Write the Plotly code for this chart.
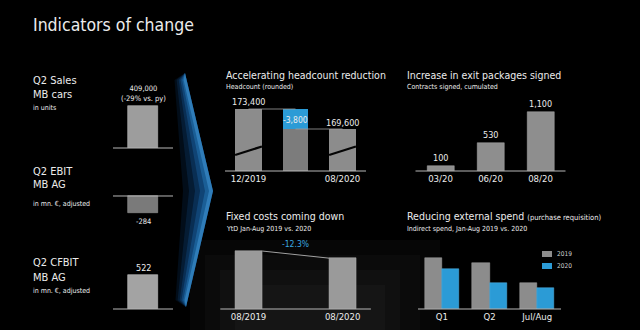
import plotly.graph_objects as go

W, H = 640, 330
FONT = "Liberation Sans Narrow, DejaVu Sans Condensed, Roboto, sans-serif"
WHITE = "#ececec"
BLUE = "#2b9bd6"

# ---------------- data ----------------
sales_cat = ["Q2 Sales"]
sales_value = [409000]
sales_note = "(-29% vs. py)"
ebit_cat = ["Q2 EBIT"]
ebit_value = [-284]
cfbit_cat = ["Q2 CFBIT"]
cfbit_value = [522]

headcount_cats = ["12/2019", "change", "08/2020"]
headcount_start = 173400
headcount_change = -3800
headcount_end = 169600

exit_cats = ["03/20", "06/20", "08/20"]
exit_values = [100, 530, 1100]

fixed_cats = ["08/2019", "08/2020"]
fixed_index = [100, 87.7]
fixed_change_label = "-12.3%"

spend_cats = ["Q1", "Q2", "Jul/Aug"]
spend_series = ["2019", "2020"]
spend_2019 = [51, 46, 26]
spend_2020 = [40, 26, 21]


def xdom(l, r):
    return [l / W, r / W]


def ydom(top, bottom):
    return [1 - bottom / H, 1 - top / H]


def fmt(v):
    return f"{v:,.0f}"


fig = go.Figure()

# ---- left mini charts ----
fig.add_trace(go.Bar(x=sales_cat, y=sales_value, width=0.5, xaxis="x", yaxis="y",
                     marker=dict(color="#9d9d9d", line=dict(color="#bdbdbd", width=0.6)), showlegend=False))
fig.add_trace(go.Bar(x=ebit_cat, y=ebit_value, width=0.5, xaxis="x2", yaxis="y2",
                     marker=dict(color="#7a7a7a", line=dict(color="#9a9a9a", width=0.6)), showlegend=False))
fig.add_trace(go.Bar(x=cfbit_cat, y=cfbit_value, width=0.5, xaxis="x3", yaxis="y3",
                     marker=dict(color="#a3a3a3", line=dict(color="#c4c4c4", width=0.6)), showlegend=False))

# ---- headcount waterfall ----
fig.add_trace(go.Bar(x=[headcount_cats[0], headcount_cats[2]], y=[headcount_start, headcount_end],
                     width=0.57, xaxis="x4", yaxis="y4",
                     marker=dict(color="#8c8c8c", line=dict(width=0)), showlegend=False))
fig.add_trace(go.Bar(x=[headcount_cats[1]], y=[headcount_end], width=0.53, xaxis="x4", yaxis="y4",
                     marker=dict(color="#7c7c7c", line=dict(width=0)), showlegend=False))
fig.add_trace(go.Bar(x=[headcount_cats[1]], y=[-headcount_change], base=[headcount_end], width=0.53,
                     xaxis="x4", yaxis="y4", marker=dict(color=BLUE, line=dict(width=0)), showlegend=False))

# ---- exit packages ----
fig.add_trace(go.Bar(x=exit_cats, y=exit_values, width=0.54, xaxis="x5", yaxis="y5",
                     marker=dict(color="#8e8e8e", line=dict(color="#a8a8a8", width=0.5)), showlegend=False))

# ---- fixed costs ----
fig.add_trace(go.Bar(x=fixed_cats, y=fixed_index, width=0.29, xaxis="x6", yaxis="y6",
                     marker=dict(color="#9a9a9a", line=dict(color="#b5b5b5", width=0.5)), showlegend=False))

# ---- external spend ----
SPEND_COLORS = ["#8c8c8c", BLUE]
fig.add_trace(go.Bar(x=spend_cats, y=spend_2019, name=spend_series[0], offset=-0.36, width=0.36,
                     xaxis="x7", yaxis="y7", showlegend=False,
                     marker=dict(color=SPEND_COLORS[0], line=dict(color="#a5a5a5", width=0.5))))
fig.add_trace(go.Bar(x=spend_cats, y=spend_2020, name=spend_series[1], offset=0.0, width=0.36,
                     xaxis="x7", yaxis="y7", showlegend=False,
                     marker=dict(color=SPEND_COLORS[1], line=dict(color="#55b6ea", width=0.5))))

ax_common = dict(showgrid=False, zeroline=False, showline=False, ticks="", fixedrange=True)
tick_font = dict(family=FONT, size=9.5, color=WHITE)

layout_axes = dict(
    xaxis=dict(domain=xdom(113, 173), range=[-0.5, 0.5], showticklabels=False, **ax_common),
    yaxis=dict(domain=ydom(96, 148), range=[0, 506400], showticklabels=False, anchor="x", **ax_common),
    xaxis2=dict(domain=xdom(113, 173), range=[-0.5, 0.5], showticklabels=False, anchor="y2", **ax_common),
    yaxis2=dict(domain=ydom(190, 230), range=[-568, 100], showticklabels=False, anchor="x2", **ax_common),
    xaxis3=dict(domain=xdom(113, 173), range=[-0.5, 0.5], showticklabels=False, anchor="y3", **ax_common),
    yaxis3=dict(domain=ydom(262, 309), range=[0, 721], showticklabels=False, anchor="x3", **ax_common),
    xaxis4=dict(domain=xdom(225, 366), range=[-0.5, 2.5], anchor="y4", type="category",
                categoryorder="array", categoryarray=headcount_cats,
                tickvals=[headcount_cats[0], headcount_cats[2]], ticktext=[headcount_cats[0], headcount_cats[2]],
                tickfont=tick_font, **ax_common),
    yaxis4=dict(domain=ydom(100, 171), range=[161620, 175110], showticklabels=False, anchor="x4", **ax_common),
    xaxis5=dict(domain=xdom(415.5, 565.5), range=[-0.5, 2.5], anchor="y5", tickfont=tick_font, **ax_common),
    yaxis5=dict(domain=ydom(100, 171), range=[0, 1324], showticklabels=False, anchor="x5", **ax_common),
    xaxis6=dict(domain=xdom(220.3, 370.9), range=[-0.3, 1.3], anchor="y6", tickfont=tick_font, **ax_common),
    yaxis6=dict(domain=ydom(240, 309), range=[0, 119], showticklabels=False, anchor="x6", **ax_common),
    xaxis7=dict(domain=xdom(418, 561), range=[-0.5, 2.5], anchor="y7", tickfont=tick_font, **ax_common),
    yaxis7=dict(domain=ydom(240, 309), range=[0, 69], showticklabels=False, anchor="x7", **ax_common),
)

shapes = []
# soft fog in the lower middle (stacked faint layers)
for (x0, x1, ytop, op) in [(190, 440, 240, 0.05), (205, 420, 255, 0.05), (220, 400, 270, 0.05),
                           (235, 385, 285, 0.05)]:
    shapes.append(dict(type="rect", xref="paper", yref="paper", x0=x0 / W, x1=x1 / W, y0=0, y1=1 - ytop / H,
                       fillcolor=f"rgba(120,120,120,{op})", line=dict(width=0), layer="below"))

# blue glowing chevron: layered wedges, sharp right edge, fading to the left
right_edge = [(185, 73), (213, 191), (186, 307)]
for off, col in [(30, "rgba(10,60,115,0.22)"), (24, "rgba(15,75,135,0.25)"), (18, "rgba(20,95,165,0.28)"),
                 (13, "rgba(30,115,190,0.32)"), (8, "rgba(45,140,210,0.36)"), (4, "rgba(80,170,235,0.40)")]:
    left_edge = [(186 - off * 0.35, 300), (213 - off, 191), (185 - off * 0.35, 80)]
    pts = right_edge + left_edge
    path = "M " + " L ".join(f"{x / W},{1 - y / H}" for x, y in pts) + " Z"
    shapes.append(dict(type="path", xref="paper", yref="paper", path=path,
                       fillcolor=col, line=dict(width=0), layer="below"))

# baselines
for ax in ["", "3", "4", "5", "6", "7"]:
    shapes.append(dict(type="line", xref=f"x{ax} domain", yref=f"y{ax} domain", x0=0, x1=1, y0=0, y1=0,
                       line=dict(color="#b8b8b8", width=1)))
shapes.append(dict(type="line", xref="x2 domain", yref="y2", x0=0, x1=1, y0=0, y1=0,
                   line=dict(color="#b8b8b8", width=1)))

# headcount connectors
shapes.append(dict(type="line", xref="x4", yref="y4", x0=0, x1=1, y0=headcount_start, y1=headcount_start,
                   line=dict(color="#a0a0a0", width=0.8)))
shapes.append(dict(type="line", xref="x4", yref="y4", x0=1, x1=2, y0=headcount_end, y1=headcount_end,
                   line=dict(color="#a0a0a0", width=0.8)))
# axis break marks
for i in [0, 2]:
    shapes.append(dict(type="line", xref="x4", yref="y4 domain", x0=i - 0.285, x1=i + 0.285, y0=0.225, y1=0.345,
                       line=dict(color="#050505", width=2.2)))
# fixed cost slope
shapes.append(dict(type="line", xref="x6", yref="y6", x0=0.145, x1=0.855, y0=fixed_index[0], y1=fixed_index[1],
                   line=dict(color="#c8c8c8", width=0.8)))

ann = []


def text(x, y, s, size, color=WHITE, xanchor="left"):
    ann.append(dict(x=x / W, y=1 - y / H, xref="paper", yref="paper", text=s, showarrow=False,
                    xanchor=xanchor, yanchor="middle", font=dict(family=FONT, size=size, color=color)))


text(31, 25, "Indicators of change", 17.5)
text(31, 80, "Q2 Sales", 11)
text(31, 95, "MB cars", 11)
text(31, 108, "in units", 7)
text(31, 171, "Q2 EBIT", 11)
text(31, 185, "MB AG", 11)
text(31, 204, "in mn. €, adjusted", 7)
text(31, 262, "Q2 CFBIT", 11)
text(31, 277, "MB AG", 11)
text(31, 291, "in mn. €, adjusted", 7)

text(224, 75, "Accelerating headcount reduction", 10.5)
text(224, 87, "Headcount (rounded)", 7)
text(405, 75, "Increase in exit packages signed", 10.5)
text(405, 87, "Contracts signed, cumulated", 7)
text(224, 216, "Fixed costs coming down", 10.5)
text(224, 229, "YtD Jan-Aug 2019 vs. 2020", 7)
text(405, 216, "Reducing external spend <span style='font-size:7.5px'>(purchase requisition)</span>", 10.5)
text(405, 229, "Indirect spend, Jan-Aug 2019 vs. 2020", 7)

# manual legend for the spend chart
for k, (name, col) in enumerate(zip(spend_series, SPEND_COLORS)):
    yc = 254 + 12 * k
    shapes.append(dict(type="rect", xref="paper", yref="paper", x0=542 / W, x1=552 / W,
                       y0=1 - (yc + 3) / H, y1=1 - (yc - 3) / H, fillcolor=col, line=dict(width=0)))
    text(555, yc, name, 6.5, color="#d0d0d0")

# value labels
ann.append(dict(x=sales_cat[0], y=sales_value[0], xref="x", yref="y", text=f"{fmt(sales_value[0])}<br>{sales_note}",
                showarrow=False, yanchor="bottom", yshift=1, font=dict(family=FONT, size=7.5, color=WHITE)))
ann.append(dict(x=ebit_cat[0], y=ebit_value[0], xref="x2", yref="y2", text=fmt(ebit_value[0]),
                showarrow=False, yanchor="top", yshift=-2, font=dict(family=FONT, size=7.5, color=WHITE)))
ann.append(dict(x=cfbit_cat[0], y=cfbit_value[0], xref="x3", yref="y3", text=fmt(cfbit_value[0]),
                showarrow=False, yanchor="bottom", yshift=0, font=dict(family=FONT, size=9, color=WHITE)))

ann.append(dict(x=headcount_cats[0], y=headcount_start, xref="x4", yref="y4", text=fmt(headcount_start),
                showarrow=False, yanchor="bottom", yshift=0, font=dict(family=FONT, size=9, color=WHITE)))
ann.append(dict(x=headcount_cats[1], y=headcount_end - headcount_change / 2, xref="x4", yref="y4",
                text=fmt(headcount_change), showarrow=False, yanchor="middle", yshift=-1,
                font=dict(family=FONT, size=8.5, color=WHITE)))
ann.append(dict(x=headcount_cats[2], y=headcount_end, xref="x4", yref="y4", text=fmt(headcount_end),
                showarrow=False, yanchor="bottom", yshift=-1, font=dict(family=FONT, size=9, color=WHITE)))

for c, v in zip(exit_cats, exit_values):
    ann.append(dict(x=c, y=v, xref="x5", yref="y5", text=fmt(v), showarrow=False, yanchor="bottom", yshift=1,
                    font=dict(family=FONT, size=9, color=WHITE)))

ann.append(dict(x=0.5, y=(fixed_index[0] + fixed_index[1]) / 2, xref="x6", yref="y6", text=fixed_change_label,
                showarrow=False, yanchor="bottom", yshift=4, font=dict(family=FONT, size=8.5, color="#3aa8e2")))

fig.update_layout(
    width=W, height=H, margin=dict(l=0, r=0, t=0, b=0),
    paper_bgcolor="#000000", plot_bgcolor="rgba(0,0,0,0)",
    barmode="overlay", bargap=0,
    font=dict(family=FONT, color=WHITE),
    shapes=shapes, annotations=ann, showlegend=False,
    **layout_axes,
)

fig.write_html("out.html")
